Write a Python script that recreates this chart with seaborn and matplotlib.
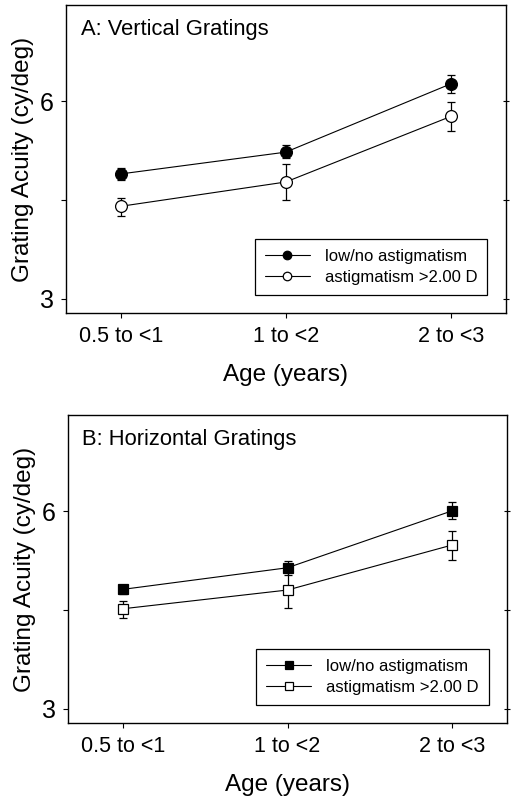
import numpy as np
import pandas as pd
import matplotlib
matplotlib.use("Agg")
import matplotlib.pyplot as plt
import seaborn as sns

categories = ["0.5 to <1", "1 to <2", "2 to <3"]
series_names = ["low/no astigmatism", "astigmatism >2.00 D"]

# Panel A: Vertical gratings (cy/deg)
vert_low = [4.65, 5.02, 6.38]
vert_low_hi = [4.74, 5.14, 6.59]
vert_low_lo = [4.56, 4.92, 6.18]
vert_ast = [4.15, 4.52, 5.69]
vert_ast_hi = [4.28, 4.82, 5.99]
vert_ast_lo = [4.01, 4.24, 5.40]

# Panel B: Horizontal gratings (cy/deg)
hor_low = [4.56, 4.92, 6.01]
hor_low_hi = [4.63, 5.04, 6.20]
hor_low_lo = [4.48, 4.80, 5.84]
hor_ast = [4.26, 4.55, 5.33]
hor_ast_hi = [4.38, 4.88, 5.60]
hor_ast_lo = [4.13, 4.27, 5.05]

ytick_vals = [3, 3 * np.sqrt(2), 6]
ytick_labels = ["3", "", "6"]

sns.set_style("ticks")
plt.rcParams["font.family"] = ["Liberation Sans", "DejaVu Sans"]
plt.rcParams["text.color"] = "black"
plt.rcParams["axes.labelcolor"] = "black"
plt.rcParams["xtick.color"] = "black"
plt.rcParams["ytick.color"] = "black"

fig = plt.figure(figsize=(5.14, 8.01), dpi=100)

def panel(rect, title, low, low_hi, low_lo, ast, ast_hi, ast_lo, marker, ms, mscale, title_xy):
    ax = fig.add_axes(rect)
    x = np.arange(len(categories))
    df = pd.DataFrame({
        "x": np.concatenate([x, x]),
        "y": low + ast,
        "series": [series_names[0]] * 3 + [series_names[1]] * 3,
    })
    for name, mfc, hi, lo, vals in [
        (series_names[0], "black", low_hi, low_lo, low),
        (series_names[1], "white", ast_hi, ast_lo, ast),
    ]:
        sub = df[df["series"] == name]
        vals = np.array(vals)
        yerr = np.vstack([vals - np.array(lo), np.array(hi) - vals])
        ax.errorbar(sub["x"], sub["y"], yerr=yerr, fmt="none", ecolor="black",
                    elinewidth=0.9, capsize=3.2, capthick=0.9, zorder=2)
        sns.lineplot(data=sub, x="x", y="y", ax=ax, color="black", linewidth=0.8,
                     marker=marker, markersize=ms, markerfacecolor=mfc,
                     markeredgecolor="black", markeredgewidth=0.9,
                     label=name, zorder=3)
    ax.set_yscale("log", base=2)
    ax.set_ylim(2.85, 8.41)
    ax.set_xlim(-1 / 3, 2 + 1 / 3)
    ax.set_yticks(ytick_vals)
    ax.set_yticklabels(ytick_labels)
    ax.yaxis.set_minor_locator(matplotlib.ticker.NullLocator())
    ax.set_xticks(x)
    ax.set_xticklabels(categories)
    ax.tick_params(axis="both", length=3.5, width=0.8,
                   direction="out", color="black", pad=6)
    ax.tick_params(axis="x", labelsize=15.5)
    ax.tick_params(axis="y", labelsize=18, pad=5)
    ax.set_xlabel("Age (years)", fontsize=17.5, labelpad=12)
    ax.set_ylabel("Grating Acuity (cy/deg)", fontsize=17.5, labelpad=4)
    for s in ax.spines.values():
        s.set_visible(True)
        s.set_linewidth(1.0)
        s.set_color("black")
    ax2 = ax.twinx()
    ax2.set_yscale("log", base=2)
    ax2.set_ylim(ax.get_ylim())
    ax2.set_yticks(ytick_vals)
    ax2.set_yticklabels([])
    ax2.yaxis.set_minor_locator(matplotlib.ticker.NullLocator())
    ax2.tick_params(axis="y", direction="inout", length=5, width=0.8)
    for s in ax2.spines.values():
        s.set_visible(False)
    ax.text(title_xy[0], title_xy[1], title, transform=ax.transAxes,
            fontsize=15.8, ha="left", va="center")
    leg = ax.legend(loc="lower right", bbox_to_anchor=(0.958, 0.06),
                    fontsize=12, frameon=True, fancybox=False, framealpha=1,
                    edgecolor="black", handlelength=2.7, borderpad=0.6,
                    labelspacing=0.35, handletextpad=0.9, borderaxespad=0,
                    markerscale=mscale)
    leg.get_frame().set_linewidth(0.9)
    return ax

panel([0.1278, 0.6089, 0.856, 0.3845], "A: Vertical Gratings",
      vert_low, vert_low_hi, vert_low_lo, vert_ast, vert_ast_hi, vert_ast_lo,
      "o", 8.5, 0.72, (0.035, 0.92))
panel([0.1317, 0.0970, 0.8553, 0.3849], "B: Horizontal Gratings",
      hor_low, hor_low_hi, hor_low_lo, hor_ast, hor_ast_hi, hor_ast_lo,
      "s", 7, 0.8, (0.032, 0.921))

fig.savefig("out.png", dpi=100)
